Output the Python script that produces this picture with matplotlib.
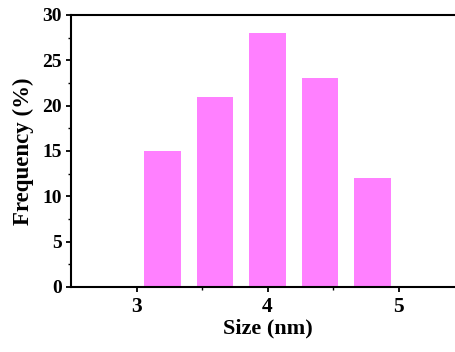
import matplotlib
matplotlib.use('Agg')
import matplotlib.pyplot as plt

# size distribution histogram
sizes = [3.2, 3.6, 4.0, 4.4, 4.8]
freq = [15, 21, 28, 23, 12]
x_ticks = [3, 4, 5]
y_ticks = [0, 5, 10, 15, 20, 25, 30]

plt.rcParams['font.family'] = 'Liberation Serif'
plt.rcParams['font.weight'] = 'bold'

fig = plt.figure(figsize=(4.56, 3.52), dpi=100)
ax = fig.add_axes([0.1557, 0.1847, 0.862, 0.7727])

ax.bar(sizes, freq, width=0.28, color='#ff80ff', edgecolor='none')

ax.set_xlim(2.5, 5.5)
ax.set_ylim(0, 30)
ax.set_xticks(x_ticks)
ax.set_xticks([3.5, 4.5], minor=True)
ax.set_yticks(y_ticks)
ax.set_yticks([2.5 + 5 * i for i in range(6)], minor=True)
ax.tick_params(which='major', direction='out', length=3.5, width=1.3)
ax.tick_params(which='minor', direction='out', length=2, width=1.0)
ax.tick_params(axis='y', labelsize=14, pad=3)
ax.tick_params(axis='x', labelsize=15.5, pad=4)

for side in ['left', 'bottom', 'top']:
    ax.spines[side].set_linewidth(1.5)
ax.spines['right'].set_visible(False)

ax.set_xlabel('Size (nm)', fontsize=16, fontweight='bold', labelpad=1)
ax.set_ylabel('Frequency (%)', fontsize=16.5, fontweight='bold', labelpad=6)

fig.savefig('out.png', dpi=100)
